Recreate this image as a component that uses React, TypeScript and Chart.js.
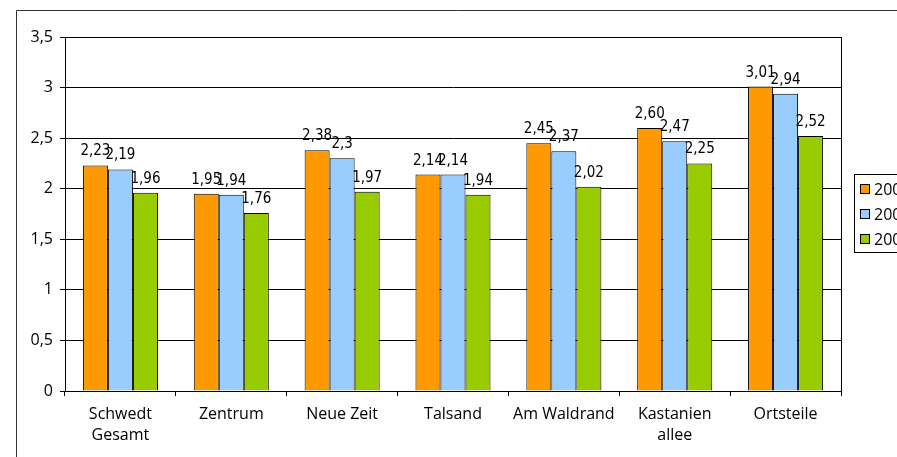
import React, { useEffect, useRef } from "react";
import { Chart, registerables } from "chart.js";

Chart.register(...registerables);

const categories: (string | string[])[] = [
  ["Schwedt", "Gesamt"],
  "Zentrum",
  "Neue Zeit",
  "Talsand",
  "Am Waldrand",
  ["Kastanien", "allee"],
  "Ortsteile",
];

const seriesNames = ["2006", "2007", "2008"];
const seriesColors = ["#FF9900", "#99CCFF", "#99CC00"];

const values1 = [2.23, 1.95, 2.38, 2.14, 2.45, 2.6, 3.01];
const values2 = [2.19, 1.94, 2.3, 2.14, 2.37, 2.47, 2.94];
const values3 = [1.96, 1.76, 1.97, 1.94, 2.02, 2.25, 2.52];

const labels1 = ["2,23", "1,95", "2,38", "2,14", "2,45", "2,60", "3,01"];
const labels2 = ["2,19", "1,94", "2,3", "2,14", "2,37", "2,47", "2,94"];
const labels3 = ["1,96", "1,76", "1,97", "1,94", "2,02", "2,25", "2,52"];

const yTicks = [0, 0.5, 1, 1.5, 2, 2.5, 3, 3.5];

const allValues = [values1, values2, values3];
const allLabels = [labels1, labels2, labels3];

const AXIS_FONT = "'Open Sans', 'Noto Sans', sans-serif";
const LABEL_FONT = "'DejaVu Sans Condensed', 'DejaVu Sans', sans-serif";

export default function App() {
  const ref = useRef<HTMLCanvasElement | null>(null);

  useEffect(() => {
    if (!ref.current) return;

    const framePlugin = {
      id: "frame",
      beforeDraw(chart: any) {
        const ctx = chart.ctx;
        ctx.save();
        ctx.strokeStyle = "#333";
        ctx.lineWidth = 1;
        ctx.beginPath();
        ctx.moveTo(16.5, chart.height + 5);
        ctx.lineTo(16.5, 10.5);
        ctx.lineTo(chart.width + 5, 10.5);
        ctx.stroke();
        ctx.restore();
      },
      beforeDatasetsDraw(chart: any) {
        const { ctx, chartArea } = chart;
        ctx.save();
        ctx.strokeStyle = "#000";
        ctx.lineWidth = 1;
        const l = Math.round(chartArea.left) + 0.5;
        const t = Math.round(chartArea.top) + 0.5;
        const r = Math.round(chartArea.right) + 0.5;
        const b = Math.round(chartArea.bottom) + 0.5;
        ctx.strokeRect(l, t, r - l, b - t);
        ctx.restore();
      },
      afterDatasetsDraw(chart: any) {
        const ctx = chart.ctx;
        ctx.save();
        ctx.font = `15px ${LABEL_FONT}`;
        ctx.fillStyle = "#000";
        ctx.textAlign = "center";
        ctx.textBaseline = "alphabetic";
        chart.data.datasets.forEach((ds: any, di: number) => {
          const meta = chart.getDatasetMeta(di);
          meta.data.forEach((bar: any, i: number) => {
            ctx.fillText(allLabels[di][i], bar.x, bar.y - 10);
          });
        });
        // legend
        const lx = 854.5;
        const ly = 174.5;
        ctx.strokeStyle = "#000";
        ctx.lineWidth = 1;
        ctx.strokeRect(lx, ly, 80, 78);
        ctx.font = `16px ${AXIS_FONT}`;
        ctx.textAlign = "left";
        ctx.textBaseline = "middle";
        seriesNames.forEach((name, i) => {
          const cy = 189 + i * 25;
          ctx.fillStyle = seriesColors[i];
          ctx.fillRect(861, cy - 4, 8, 8);
          ctx.strokeStyle = "#000";
          ctx.strokeRect(860.5, cy - 4.5, 9, 9);
          ctx.fillStyle = "#000";
          ctx.fillText(name, 874, cy + 1);
        });
        ctx.restore();
      },
    };

    const chart = new Chart(ref.current, {
      type: "bar",
      data: {
        labels: categories,
        datasets: allValues.map((vals, i) => ({
          label: seriesNames[i],
          data: vals,
          backgroundColor: seriesColors[i],
          borderColor: "#000",
          borderWidth: 1,
          categoryPercentage: 0.677,
          barPercentage: 1,
        })),
      },
      options: {
        animation: false,
        responsive: false,
        maintainAspectRatio: false,
        layout: { padding: { left: 0, top: 37, right: 56, bottom: 0 } },
        plugins: {
          legend: { display: false },
          tooltip: { enabled: false },
        },
        scales: {
          x: {
            offset: true,
            grid: {
              offset: true,
              drawOnChartArea: false,
              drawTicks: true,
              tickLength: 5,
              color: "#000",
            },
            border: { display: true, color: "#000" },
            ticks: {
              color: "#000",
              font: { family: AXIS_FONT, size: 16, lineHeight: 1.32 },
              padding: 8,
              maxRotation: 0,
              autoSkip: false,
            },
            afterFit(scale: any) {
              scale.height = 66;
            },
          },
          y: {
            min: 0,
            max: 3.5,
            afterBuildTicks(scale: any) {
              scale.ticks = yTicks.map((v) => ({ value: v }));
            },
            grid: {
              color: "#000",
              tickLength: 5,
            },
            border: { display: true, color: "#000" },
            ticks: {
              color: "#000",
              font: { family: AXIS_FONT, size: 16 },
              padding: 7,
              callback: (v: any) => String(v).replace(".", ","),
            },
            afterFit(scale: any) {
              scale.width = 65;
            },
          },
        },
      },
      plugins: [framePlugin],
    });

    return () => chart.destroy();
  }, []);

  return (
    <div
      style={{
        position: "fixed",
        left: 0,
        top: 0,
        width: 897,
        height: 457,
        overflow: "hidden",
        background: "#fff",
      }}
    >
      <canvas ref={ref} width={897} height={457} style={{ display: "block", width: 897, height: 457 }} />
    </div>
  );
}
